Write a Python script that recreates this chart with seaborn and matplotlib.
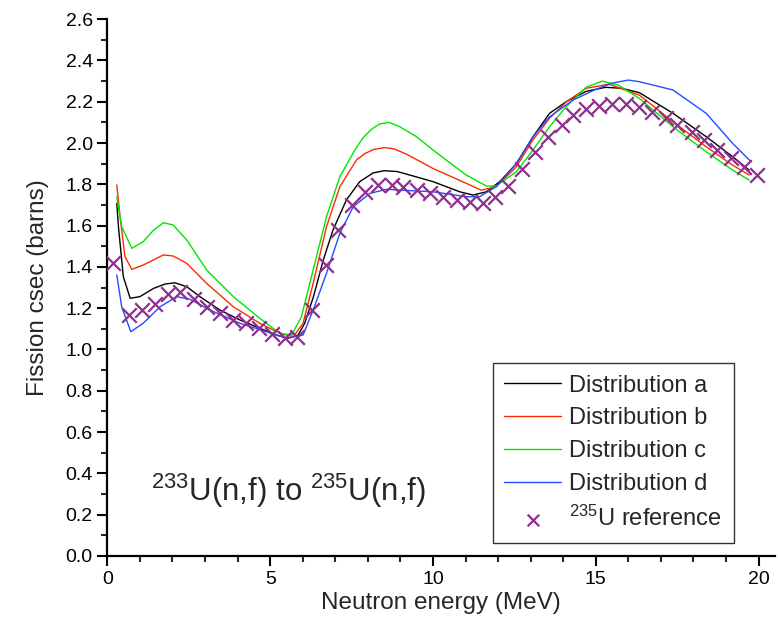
import matplotlib
matplotlib.use("Agg")
import matplotlib.pyplot as plt
import seaborn as sns
import pandas as pd
from matplotlib.ticker import MultipleLocator

# ---- data ----
e_a = [0.29, 0.34, 0.49, 0.70, 1.0, 1.42, 1.77, 2.08, 2.44, 2.84, 3.46, 4.07, 4.68, 5.2, 5.55, 5.86, 6.06,
       6.33, 6.63, 6.93, 7.34, 7.75, 8.16, 8.5, 8.9, 9.4, 10.0, 10.82, 11.23, 11.64, 12.05, 12.56, 13.07,
       13.58, 14.09, 14.7, 15.3, 15.8, 16.34, 17.37, 18.39, 19.2, 19.71]
s_a = [1.708, 1.595, 1.353, 1.248, 1.256, 1.296, 1.317, 1.323, 1.304, 1.256, 1.191, 1.143, 1.103, 1.07, 1.054,
       1.07, 1.127, 1.256, 1.433, 1.579, 1.724, 1.813, 1.855, 1.866, 1.862, 1.84, 1.813, 1.764, 1.748, 1.764,
       1.813, 1.90, 2.03, 2.144, 2.2, 2.25, 2.27, 2.265, 2.244, 2.144, 2.031, 1.934, 1.869]

e_b = [0.29, 0.39, 0.54, 0.75, 1.1, 1.72, 2.02, 2.44, 3.05, 3.87, 4.68, 5.3, 5.71, 6.01, 6.32, 6.73, 7.14,
       7.65, 7.9, 8.16, 8.5, 8.8, 9.2, 10.0, 11.02, 11.48, 11.94, 12.56, 13.07, 13.58, 14.1, 14.7, 15.4,
       16.34, 17.37, 18.39, 19.2, 19.71]
s_b = [1.797, 1.643, 1.45, 1.388, 1.409, 1.458, 1.453, 1.417, 1.32, 1.207, 1.127, 1.078, 1.062, 1.127, 1.32,
       1.595, 1.788, 1.918, 1.948, 1.968, 1.978, 1.972, 1.945, 1.877, 1.805, 1.772, 1.788, 1.885, 2.015,
       2.12, 2.2, 2.265, 2.285, 2.232, 2.103, 1.982, 1.893, 1.845]

e_c = [0.29, 0.44, 0.75, 1.1, 1.4, 1.72, 2.02, 2.44, 3.05, 3.87, 4.68, 5.3, 5.66, 5.96, 6.32, 6.73, 7.14,
       7.6, 7.85, 8.1, 8.35, 8.65, 8.97, 9.5, 10.0, 11.02, 11.64, 11.94, 12.56, 13.07, 13.58, 14.09, 14.7,
       15.2, 15.7, 16.34, 17.37, 18.39, 19.2, 19.71]
s_c = [1.74, 1.595, 1.49, 1.522, 1.575, 1.614, 1.603, 1.53, 1.385, 1.256, 1.151, 1.078, 1.07, 1.159, 1.385,
       1.643, 1.837, 1.966, 2.025, 2.065, 2.092, 2.10, 2.08, 2.03, 1.966, 1.845, 1.792, 1.792, 1.861, 1.966,
       2.079, 2.176, 2.27, 2.30, 2.28, 2.216, 2.079, 1.958, 1.869, 1.821]

e_d = [0.29, 0.44, 0.72, 1.1, 1.62, 2.13, 2.54, 3.15, 4.07, 4.89, 5.5, 6.01, 6.32, 6.73, 7.14, 7.55, 8.06,
       8.57, 8.98, 10.0, 11.02, 11.43, 11.94, 12.56, 13.07, 13.58, 14.3, 15.0, 15.5, 16.0, 16.34, 17.37,
       18.39, 19.2, 19.77]
s_d = [1.361, 1.207, 1.086, 1.127, 1.207, 1.256, 1.243, 1.191, 1.127, 1.086, 1.054, 1.07, 1.191, 1.369,
       1.563, 1.691, 1.756, 1.776, 1.772, 1.764, 1.74, 1.74, 1.788, 1.90, 2.03, 2.127, 2.208, 2.26, 2.29,
       2.305, 2.297, 2.257, 2.144, 1.999, 1.909]

e_ref = [0.17, 0.67, 1.06, 1.46, 1.86, 2.23, 2.66, 3.06, 3.46, 3.86, 4.25, 4.65, 5.05, 5.45, 5.82, 6.28,
         6.71, 7.08, 7.5, 7.9, 8.3, 8.73, 9.07, 9.5, 9.9, 10.3, 10.73, 11.13, 11.53, 11.89, 12.29, 12.72,
         13.12, 13.52, 13.95, 14.29, 14.71, 15.11, 15.51, 15.94, 16.34, 16.74, 17.17, 17.5, 17.94, 18.33,
         18.73, 19.16, 19.56, 19.96]
s_ref = [1.419, 1.167, 1.19, 1.22, 1.27, 1.28, 1.245, 1.206, 1.177, 1.143, 1.128, 1.104, 1.075, 1.056, 1.06,
         1.19, 1.41, 1.58, 1.70, 1.763, 1.797, 1.797, 1.787, 1.772, 1.758, 1.738, 1.724, 1.714, 1.709, 1.738,
         1.79, 1.874, 1.956, 2.03, 2.087, 2.136, 2.165, 2.18, 2.19, 2.19, 2.174, 2.15, 2.12, 2.087, 2.053,
         2.015, 1.966, 1.927, 1.884, 1.845]

labels = ["Distribution a", "Distribution b", "Distribution c", "Distribution d"]
colors = ["#000000", "#ff2a00", "#00e600", "#1f4fff"]
ref_label = r"$^{235}$U reference"
ref_color = "#8e2f8e"
annot = r"$^{233}$U(n,f) to $^{235}$U(n,f)"

# ---- style ----
sns.set_style("ticks")
plt.rcParams["font.family"] = ["Liberation Sans", "DejaVu Sans"]
plt.rcParams["mathtext.fontset"] = "custom"
plt.rcParams["mathtext.rm"] = "Liberation Sans"
plt.rcParams["mathtext.it"] = "Liberation Sans:italic"
plt.rcParams["mathtext.bf"] = "Liberation Sans:bold"

fig = plt.figure(figsize=(7.78, 6.39), dpi=100)
ax = fig.add_axes([0.138, 0.130, 0.858, 0.840])

series = [(e_a, s_a), (e_b, s_b), (e_c, s_c), (e_d, s_d)]
for (e, s), lab, col in zip(series, labels, colors):
    df = pd.DataFrame({"E": e, "sigma": s})
    sns.lineplot(data=df, x="E", y="sigma", ax=ax, color=col, linewidth=1.0, label=lab)

df_ref = pd.DataFrame({"E": e_ref, "sigma": s_ref})
sns.scatterplot(data=df_ref, x="E", y="sigma", ax=ax, marker="x", s=110, color=ref_color,
                linewidth=1.6, label=ref_label, zorder=5)

ax.set_xlim(0, 20.5)
ax.set_ylim(0, 2.6)
ax.xaxis.set_major_locator(MultipleLocator(5))
ax.xaxis.set_minor_locator(MultipleLocator(1))
ax.yaxis.set_major_locator(MultipleLocator(0.2))
ax.yaxis.set_minor_locator(MultipleLocator(0.1))
ax.yaxis.set_major_formatter(matplotlib.ticker.FormatStrFormatter("%.1f"))
ax.tick_params(which="major", direction="out", length=7, width=1.5, labelsize=14, colors="black")
ax.tick_params(which="minor", direction="out", length=4.5, width=1.5)
for side in ["top", "right"]:
    ax.spines[side].set_visible(False)
for side in ["left", "bottom"]:
    ax.spines[side].set_linewidth(1.6)
    ax.spines[side].set_color("black")

ax.set_xlabel("Neutron energy (MeV)", fontsize=17.5, labelpad=3)
ax.set_ylabel("Fission csec (barns)", fontsize=17.5, labelpad=12)

ax.text(5.56, 0.315, annot, fontsize=22.5, ha="center", va="center")

leg = ax.legend(loc="lower right", bbox_to_anchor=(0.9386, 0.024), borderaxespad=0,
                fontsize=17, frameon=True, fancybox=False, edgecolor="black",
                handlelength=2.4, handletextpad=0.35, labelspacing=0.46, borderpad=0.5,
                scatterpoints=1)
leg.get_frame().set_linewidth(1.0)
for h in leg.legend_handles[-1:]:
    h.set_sizes([70])

fig.savefig("out.png", dpi=100)
